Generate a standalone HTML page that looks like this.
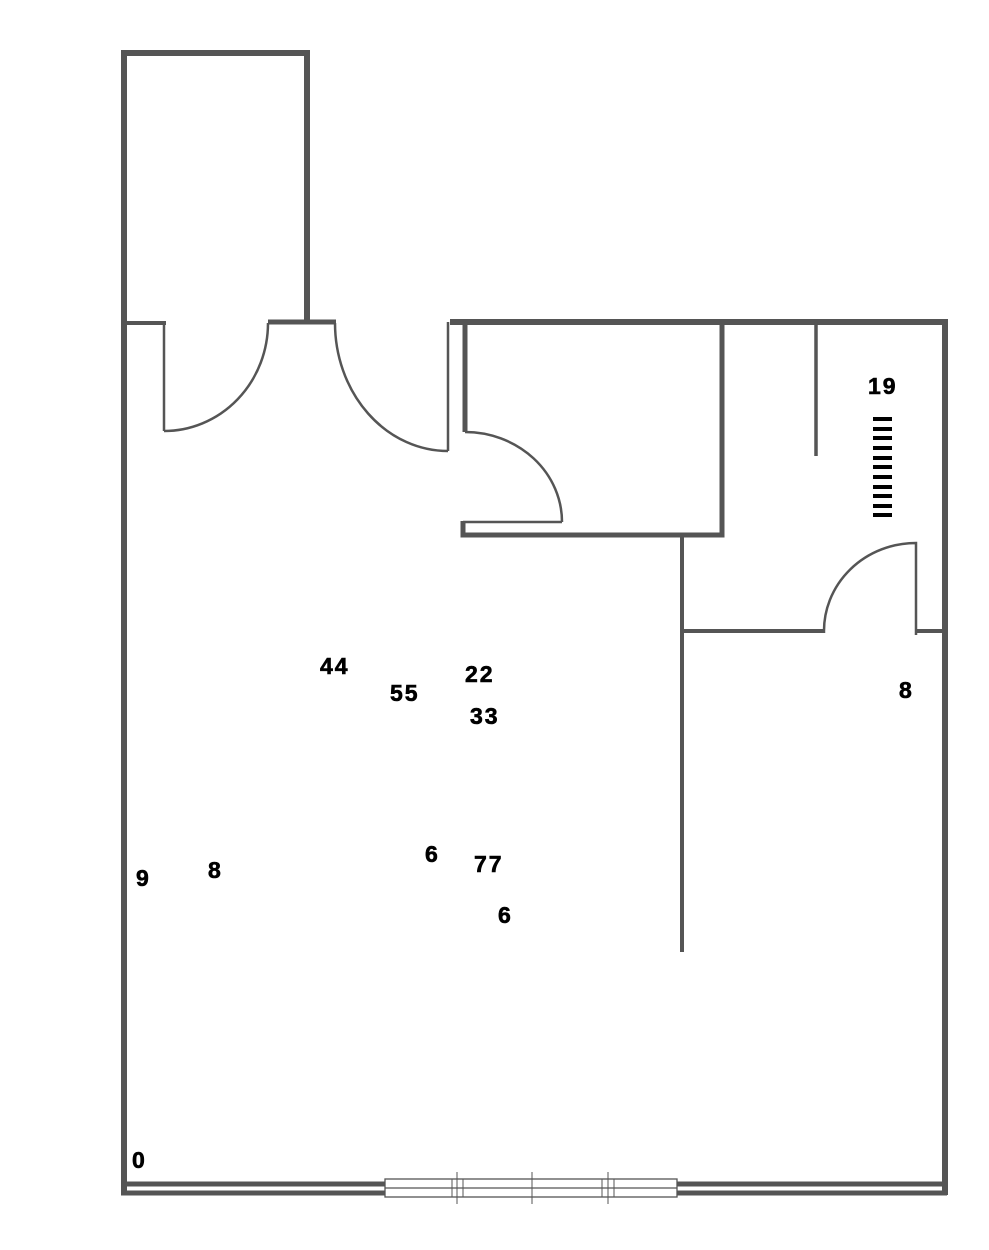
<!DOCTYPE html>
<html><head><meta charset="utf-8"><style>html,body{margin:0;padding:0;background:#fff;}svg{display:block}</style></head>
<body>
<svg width="989" height="1250" viewBox="0 0 989 1250" xmlns="http://www.w3.org/2000/svg">
<g stroke="#555" fill="none" stroke-linecap="butt">
<path d="M124 1195 V53 H307 V323" stroke-width="6"/>
<line x1="124" y1="323" x2="166" y2="323" stroke-width="4"/>
<line x1="268" y1="322" x2="336" y2="322" stroke-width="5"/>
<path d="M450 322 H945 V1195" stroke-width="6"/>
<path d="M164 323 V431" stroke-width="2.5"/>
<path d="M164 431 A104 108 0 0 0 268 323" stroke-width="2.5"/>
<path d="M335 323 A113 128 0 0 0 448 451" stroke-width="2.5"/>
<path d="M448 451 V322" stroke-width="2.5"/>
<path d="M465 323 V432" stroke-width="5"/>
<path d="M465 432 A97 90 0 0 1 562 522" stroke-width="2.5"/>
<path d="M562 522 H463" stroke-width="2.5"/>
<path d="M463 521 V535 H722 V322" stroke-width="5"/>
<line x1="816" y1="322" x2="816" y2="456" stroke-width="3.5"/>
<line x1="682" y1="535" x2="682" y2="952" stroke-width="4"/>
<line x1="682" y1="631" x2="824" y2="631" stroke-width="4"/>
<path d="M824 633 A92 88 0 0 1 916 543 V635" stroke-width="2.5"/>
<line x1="916" y1="631" x2="945" y2="631" stroke-width="4"/>
<line x1="121" y1="1184" x2="385" y2="1184" stroke-width="5"/>
<line x1="121" y1="1193" x2="385" y2="1193" stroke-width="5"/>
<line x1="677" y1="1184" x2="947" y2="1184" stroke-width="5"/>
<line x1="677" y1="1193" x2="947" y2="1193" stroke-width="5"/>
<rect x="385" y="1179" width="292" height="18" stroke-width="1.3"/>
<line x1="385" y1="1188" x2="677" y2="1188" stroke-width="1.3"/>
<g stroke-width="1">
<line x1="452" y1="1179" x2="452" y2="1197"/><line x1="457" y1="1172" x2="457" y2="1204"/><line x1="463" y1="1179" x2="463" y2="1197"/>
<line x1="532" y1="1172" x2="532" y2="1204"/>
<line x1="602" y1="1179" x2="602" y2="1197"/><line x1="608" y1="1172" x2="608" y2="1204"/><line x1="614" y1="1179" x2="614" y2="1197"/>
</g>
</g>
<g fill="#000">
<rect x="873" y="417" width="19" height="4"/><rect x="873" y="427" width="19" height="4"/><rect x="873" y="436" width="19" height="4"/><rect x="873" y="446" width="19" height="4"/><rect x="873" y="456" width="19" height="4"/><rect x="873" y="465" width="19" height="4"/><rect x="873" y="475" width="19" height="4"/><rect x="873" y="485" width="19" height="4"/><rect x="873" y="494" width="19" height="4"/><rect x="873" y="504" width="19" height="4"/><rect x="873" y="513" width="19" height="4"/>
</g>
<g font-family="Liberation Sans, sans-serif" font-weight="bold" font-size="23" fill="#000" stroke="#000" stroke-width="0.6" letter-spacing="2">
<text x="868" y="394">19</text>
<text x="320" y="674">44</text>
<text x="390" y="701">55</text>
<text x="465" y="682">22</text>
<text x="470" y="724">33</text>
<text x="899" y="698">8</text>
<text x="425" y="862">6</text>
<text x="474" y="872">77</text>
<text x="498" y="923">6</text>
<text x="136" y="886">9</text>
<text x="208" y="878">8</text>
<text x="132" y="1168">0</text>
</g>
</svg>
</body></html>
